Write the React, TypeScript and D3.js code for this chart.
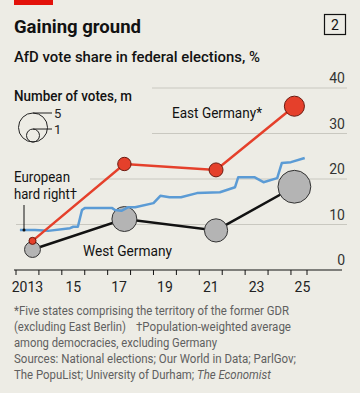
import React, { useEffect, useRef, useState } from 'react';
import * as d3 from 'd3';

// AfD vote share, %, by federal election (decimal year of polling day)
const electionYears = [2013.72, 2017.73, 2021.73, 2025.15];
const eastShare = [6.4, 23.3, 22.0, 36.0];
const eastVotes = [0.3, 1.06, 1.16, 2.4];
const westShare = [4.5, 11.2, 8.7, 18.3];
const westVotes = [1.5, 3.7, 3.2, 6.4];

// European hard right, population-weighted average, %
const hardRightDates = [2013.17, 2013.83, 2014.4, 2015.36, 2015.5, 2015.7, 2015.88, 2016.0, 2017.2, 2017.32, 2017.6, 2017.9, 2018.2, 2019.0, 2019.3, 2019.7, 2020.2, 2020.9, 2021.9, 2022.56, 2022.7, 2023.4, 2023.8, 2024.4, 2024.6, 2025.0, 2025.6];
const hardRightShare = [8.8, 8.8, 8.6, 9.2, 9.5, 9.5, 13.2, 13.6, 13.6, 13.2, 13.0, 13.8, 13.8, 14.7, 16.3, 16.0, 16.0, 16.9, 17.1, 18.2, 20.4, 20.4, 19.3, 20.2, 23.5, 23.7, 24.6];

const yTicks = [0, 10, 20, 30, 40];
const tickYears = d3.range(2013, 2026);
const labelYears = [2013, 2015, 2017, 2019, 2021, 2023, 2025];
const xTickLabels = ['2013', '15', '17', '19', '21', '23', '25'];
const legendVotes = [5, 1];

const BG = '#edece5';
const RED = '#e5402b';
const BLUE = '#5b9bd5';
const FONT = 'Roboto, sans-serif';

export default function App() {
  const x = d3.scaleLinear().domain([2013, 2025.7]).range([16, 307]);
  const y = d3.scaleLinear().domain([0, 40]).range([270, 88]);
  const r = d3.scaleSqrt().domain([0, 5]).range([0, 14.5]);

  const line = d3.line<[number, number]>().x(d => x(d[0])).y(d => y(d[1]));
  const east = electionYears.map((t, i) => [t, eastShare[i]] as [number, number]);
  const west = electionYears.map((t, i) => [t, westShare[i]] as [number, number]);
  const hardRight = hardRightDates.map((t, i) => [t, hardRightShare[i]] as [number, number]);

  // gridlines start further right where text sits over them
  const gridStart: Record<number, number> = { 10: 16, 20: 90, 30: 152, 40: 152 };

  // last source line mixes roman and italic, so squeeze it with a transform instead of textLength
  const lastLine = useRef<SVGTextElement>(null);
  const [squeeze, setSqueeze] = useState(0.85);
  useEffect(() => {
    if (lastLine.current) {
      const w = lastLine.current.getComputedTextLength();
      if (w > 0) setSqueeze(257 / w);
    }
  }, []);

  return (
    <div style={{ position: 'absolute', left: 0, top: 0 }}>
      <svg width={360} height={393} style={{ display: 'block', background: BG }} fontFamily={FONT}>
        <rect x={14} y={0} width={39} height={5} fill="#e3120b" />
        <text x={14} y={33} fontSize={18.5} fontWeight={700} fill="#121212" textLength={127} lengthAdjust="spacingAndGlyphs">Gaining ground</text>
        <rect x={324.5} y={14.5} width={21} height={20} fill="none" stroke="#121212" strokeWidth={1.2} />
        <text x={335} y={30} fontSize={14} textAnchor="middle" fill="#121212">2</text>
        <text x={14} y={62} fontSize={15} fontWeight={500} fill="#121212" textLength={246} lengthAdjust="spacingAndGlyphs">AfD vote share in federal elections, %</text>

        {/* gridlines and y labels */}
        {yTicks.filter(v => v > 0).map(v => (
          <line key={v} x1={gridStart[v]} x2={347} y1={y(v)} y2={y(v)} stroke="#c9c8c0" strokeWidth={1} />
        ))}
        {yTicks.map(v => (
          <text key={v} x={345} y={y(v) - 5} fontSize={14} textAnchor="end" fill="#333">{v}</text>
        ))}

        {/* legend */}
        <text x={14} y={101} fontSize={14} fontWeight={500} fill="#121212" textLength={118} lengthAdjust="spacingAndGlyphs">Number of votes, m</text>
        {legendVotes.map(v => (
          <g key={v}>
            <circle cx={33} cy={142 - r(v)} r={r(v)} fill="none" stroke="#222" strokeWidth={1} />
            <line x1={33} x2={52} y1={142 - 2 * r(v)} y2={142 - 2 * r(v)} stroke="#222" strokeWidth={1} />
            <text x={54} y={142 - 2 * r(v) + 5} fontSize={13} fill="#222">{v}</text>
          </g>
        ))}

        {/* x axis */}
        <line x1={14} x2={342} y1={270} y2={270} stroke="#121212" strokeWidth={1.2} />
        {tickYears.concat([2025.7]).map(t => (
          <line key={t} x1={x(t)} x2={x(t)} y1={270} y2={275} stroke="#121212" strokeWidth={1} />
        ))}
        {labelYears.map((t, i) => (
          <text key={t} x={x(t + 0.5)} y={292} fontSize={14} textAnchor="middle" fill="#222">{xTickLabels[i]}</text>
        ))}

        {/* West Germany */}
        <path d={line(west) || ''} fill="none" stroke="#121212" strokeWidth={2.5} />
        {west.map((d, i) => (
          <circle key={i} cx={x(d[0])} cy={y(d[1])} r={r(westVotes[i])} fill="#b4b4b4" stroke="#333" strokeWidth={1} />
        ))}

        {/* European hard right */}
        <path d={line(hardRight) || ''} fill="none" stroke={BLUE} strokeWidth={2.5} strokeLinejoin="round" />
        <line x1={24} x2={24} y1={205} y2={y(hardRightShare[0])} stroke="#121212" strokeWidth={1} />
        <circle cx={24} cy={y(hardRightShare[0])} r={1.5} fill="#121212" />

        {/* East Germany */}
        <path d={line(east) || ''} fill="none" stroke={RED} strokeWidth={2.5} />
        {east.map((d, i) => (
          <circle key={i} cx={x(d[0])} cy={y(d[1])} r={r(eastVotes[i])} fill={RED} stroke="#6b1a10" strokeWidth={1} />
        ))}

        {/* labels */}
        <text x={172} y={118} fontSize={15} fill="#121212" textLength={90} lengthAdjust="spacingAndGlyphs">East Germany*</text>
        <text x={83} y={256} fontSize={15} fill="#121212" textLength={89} lengthAdjust="spacingAndGlyphs">West Germany</text>
        <text x={14} y={182} fontSize={14.5} fill="#121212" textLength={56} lengthAdjust="spacingAndGlyphs">European</text>
        <text x={14} y={199} fontSize={14.5} fill="#121212" textLength={63} lengthAdjust="spacingAndGlyphs">hard right†</text>

        {/* footnotes */}
        <g fontSize={12.5} fill="#606060">
          <text x={14} y={315} textLength={275} lengthAdjust="spacingAndGlyphs">*Five states comprising the territory of the former GDR</text>
          <text x={14} y={331} textLength={112} lengthAdjust="spacingAndGlyphs">(excluding East Berlin)</text>
          <text x={136} y={331} textLength={155} lengthAdjust="spacingAndGlyphs">†Population-weighted average</text>
          <text x={14} y={347} textLength={203} lengthAdjust="spacingAndGlyphs">among democracies, excluding Germany</text>
          <text x={14} y={363} textLength={282} lengthAdjust="spacingAndGlyphs">Sources: National elections; Our World in Data; ParlGov;</text>
          <text ref={lastLine} transform={`translate(14,379) scale(${squeeze},1)`}>
            The PopuList; University of Durham; <tspan fontStyle="italic">The Economist</tspan>
          </text>
        </g>
      </svg>
    </div>
  );
}
